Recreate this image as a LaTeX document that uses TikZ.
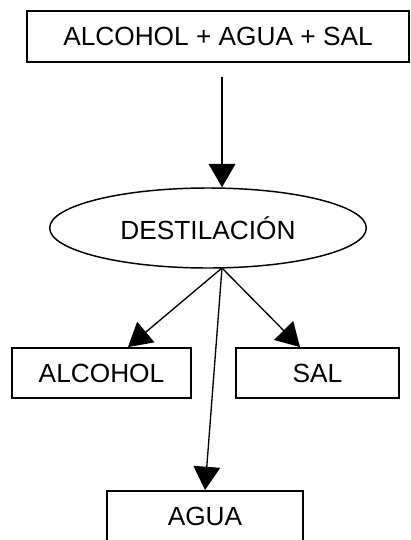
\documentclass[tikz,border=0pt]{standalone}
\usepackage{fontspec}
\setmainfont{Liberation Sans}
\usetikzlibrary{arrows.meta,shapes.geometric}

\begin{document}
\begin{tikzpicture}
                [x=0.75pt,y=-0.75pt,
                 every node/.style={font=\fontsize{19.7}{23.6}\selectfont},
                 caja/.style={rectangle,draw,line width=1.4pt,inner sep=0pt},
                 proceso/.style={ellipse,draw,line width=1.1pt,inner sep=0pt},
                 flecha/.style={-{Triangle[length=17.5pt,width=20pt]},line width=1pt}]

                \useasboundingbox (0,0) rectangle (411,540);

                \node[caja,minimum width=286.5pt,minimum height=38pt]    (mezcla)  at (218,36.5)  {ALCOHOL + AGUA + SAL};
                \node[proceso,minimum width=237.5pt,minimum height=60pt] (destil)  at (208,228)   {DESTILACIÓN};
                \node[caja,minimum width=134pt,minimum height=37.5pt]    (alcohol) at (101.5,373) {ALCOHOL};
                \node[caja,minimum width=122pt,minimum height=37.5pt]    (sal)     at (317.5,373) {SAL};
                \node[caja,minimum width=147pt,minimum height=37.5pt]    (agua)    at (205,516)   {AGUA};

                \coordinate (salida) at (222,268);

                \draw[flecha,shorten <=11pt] (mezcla.south -| salida) -- (destil.north -| salida);
                \draw[flecha] (salida) -- (alcohol.north -| 128,0);
                \draw[flecha] (salida) -- (sal.north -| 300,0);
                \draw[flecha] (salida) -- (agua.north);

            \end{tikzpicture}
\end{document}
